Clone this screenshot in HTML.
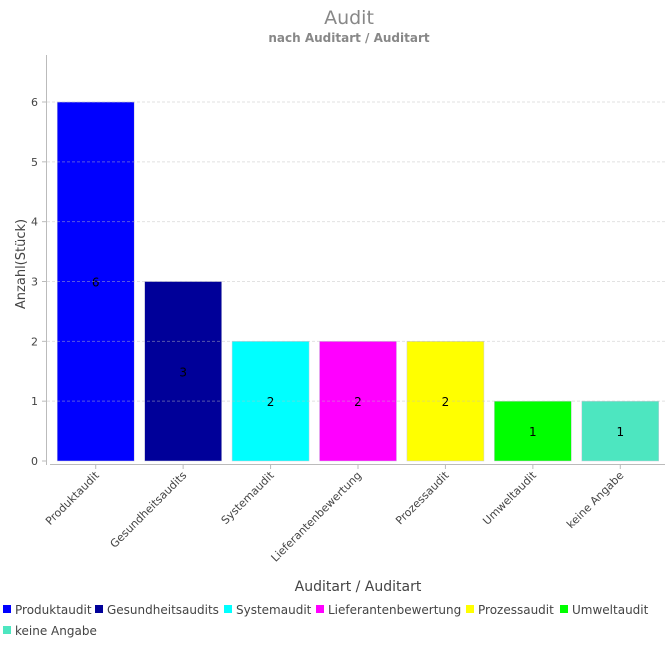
<!DOCTYPE html>
<html><head><meta charset="utf-8"><style>
body{margin:0;background:#fff;font-family:"DejaVu Sans","Liberation Sans",sans-serif}
svg text{font-family:"DejaVu Sans","Liberation Sans",sans-serif}
</style></head><body>
<svg id="c" width="667" height="644" xmlns="http://www.w3.org/2000/svg">
<text x="349" y="24" text-anchor="middle" font-size="19" fill="#888">Audit</text>
<text x="349" y="42" text-anchor="middle" font-size="12" font-weight="bold" fill="#888">nach Auditart / Auditart</text>
<text transform="translate(25,264) rotate(-90)" text-anchor="middle" font-size="13" fill="#444">Anzahl(Stück)</text>
<text x="358" y="591" text-anchor="middle" font-size="14" fill="#444">Auditart / Auditart</text>
<g id="bars"></g><g id="grid"></g><g id="axes"></g><g id="legend"></g>
</svg>
<script>
const categories=["Produktaudit","Gesundheitsaudits","Systemaudit","Lieferantenbewertung","Prozessaudit","Umweltaudit","keine Angabe"];
const values=[6,3,2,2,2,1,1];
const colors=["#0000ff","#000099","#00ffff","#ff00ff","#ffff00","#00ff00","#4de6c0"];
const yTicks=[0,1,2,3,4,5,6];
const NS="http://www.w3.org/2000/svg";
const x0=52,x1=664,y0=461,yTop=102,band=(x1-x0)/categories.length;
const y=v=>y0-(y0-yTop)*v/6;
const xc=i=>x0+band*(i+0.5);
function mk(t,a,p,txt){const e=document.createElementNS(NS,t);for(const k in a)e.setAttribute(k,a[k]);if(txt!==undefined)e.textContent=txt;document.getElementById(p).appendChild(e);return e;}
yTicks.forEach(t=>{
 if(t>0){const g=mk('line',{x1:47,x2:665,y1:y(t),y2:y(t),stroke:'rgba(190,190,190,0.45)','stroke-dasharray':'3,2'},'grid');
 
 }
 const tk=mk('line',{x1:42,x2:46,y1:y(t),y2:y(t),stroke:'#bbb'},'axes');
 
 
 const l=mk('text',{x:38,y:y(t)+4,'text-anchor':'end','font-size':11,fill:'#444'},'axes',String(t));
 
 
});
const ya=mk('line',{x1:46.5,x2:46.5,y1:55,y2:465,stroke:'#bbb'},'axes');


const xa=mk('line',{x1:50,x2:665,y1:464.5,y2:464.5,stroke:'#bbb'},'axes');


categories.forEach((c,i)=>{
 const cx=xc(i),bw=77;
 const r=mk('rect',{x:cx-bw/2,y:y(values[i]),width:bw,height:y0-y(values[i]),fill:colors[i],stroke:'#ccd',"stroke-width":0.5},'bars');
 
 
 const v=mk('text',{x:cx,y:(y(values[i])+y0)/2+5,'text-anchor':'middle','font-size':12,fill:'#000'},'bars',String(values[i]));
 
 
 const tk=mk('line',{x1:cx,x2:cx,y1:465,y2:469,stroke:'#bbb'},'axes');
 
 
 const l=mk('text',{transform:`translate(${cx+4},${476}) rotate(-45)`,'text-anchor':'end','font-size':11,fill:'#444'},'axes',c);
 
 
});
const legX=[3,95,224,316,466,560,3],legY=[610,610,610,610,610,610,631];
categories.forEach((c,i)=>{
 const s=mk('rect',{x:legX[i],y:legY[i]-5,width:8,height:8,fill:colors[i]},'legend');
 
 
 const t=mk('text',{x:legX[i]+12,y:legY[i]+4,'font-size':12,fill:'#444'},'legend',c);
 
 
});
</script>
</body></html>
